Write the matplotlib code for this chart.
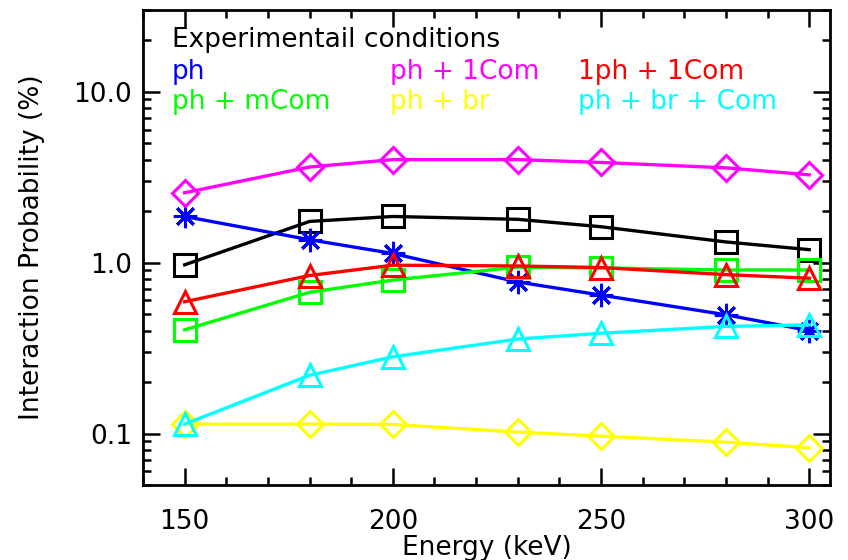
import matplotlib
matplotlib.use("Agg")
import matplotlib.pyplot as plt
from matplotlib.ticker import FixedLocator, FixedFormatter, LogLocator, MultipleLocator, NullFormatter

energy = [150, 180, 200, 230, 250, 280, 300]

exp_cond = [0.97, 1.74, 1.86, 1.79, 1.62, 1.32, 1.19]
ph = [1.86, 1.36, 1.13, 0.77, 0.645, 0.495, 0.40]
ph_1com = [2.56, 3.62, 4.0, 4.0, 3.85, 3.58, 3.26]
oneph_1com = [0.59, 0.84, 0.965, 0.955, 0.935, 0.85, 0.81]
ph_mcom = [0.404, 0.67, 0.79, 0.94, 0.93, 0.905, 0.905]
ph_br = [0.1135, 0.1135, 0.113, 0.102, 0.0965, 0.089, 0.0826]
ph_br_com = [0.1135, 0.219, 0.281, 0.357, 0.386, 0.423, 0.432]

x_ticks = [150, 200, 250, 300]
x_ticklabels = ["150", "200", "250", "300"]
y_ticks = [0.1, 1.0, 10.0]
y_ticklabels = ["0.1", "1.0", "10.0"]

legend_title = "Experimentail conditions"
legend_labels = ["ph", "ph + 1Com", "1ph + 1Com", "ph + mCom", "ph + br", "ph + br + Com"]

plt.rcParams['font.family'] = ['DejaVu Sans']
fs = 19

fig = plt.figure(figsize=(8.48, 5.60), dpi=100)
ax = fig.add_axes([143/848, 1-485/560, (830-143)/848, (485-10)/560])

lw = 2.4
ms = 16
mew = 2.2
star = (8, 2, 0)

series = [
    (exp_cond, 'black', 's'),
    (ph, '#0000ff', star),
    (ph_1com, '#ff00ff', 'D'),
    (ph_mcom, '#00ff00', 's'),
    (oneph_1com, '#ff0000', '^'),
    (ph_br, '#ffff00', 'D'),
    (ph_br_com, '#00ffff', '^'),
]
for vals, col, mk in series:
    m_size = ms
    if mk == 'D':
        m_size = ms * 0.85
    if mk == star:
        m_size = ms * 1.05
    ax.plot(energy, vals, color=col, lw=lw, marker=mk, markersize=m_size,
            markerfacecolor='none', markeredgecolor=col, markeredgewidth=mew)

ax.set_yscale('log')
ax.set_xlim(140, 305)
ax.set_ylim(0.05, 30)

ax.xaxis.set_major_locator(FixedLocator(x_ticks))
ax.xaxis.set_major_formatter(FixedFormatter(x_ticklabels))
ax.xaxis.set_minor_locator(MultipleLocator(10))
ax.yaxis.set_major_locator(FixedLocator(y_ticks))
ax.yaxis.set_major_formatter(FixedFormatter(y_ticklabels))
ax.yaxis.set_minor_locator(LogLocator(base=10, subs=range(2, 10)))
ax.yaxis.set_minor_formatter(NullFormatter())

ax.tick_params(which='both', direction='in', top=True, right=True, width=1.8, colors='black',
               labelsize=fs)
ax.tick_params(which='major', length=12)
ax.tick_params(which='minor', length=6)
ax.tick_params(axis='x', which='major', pad=17)
ax.tick_params(axis='y', which='major', pad=8)
for sp in ax.spines.values():
    sp.set_linewidth(2)

ax.set_xlabel("Energy (keV)", fontsize=fs, labelpad=0)
ax.set_ylabel("Interaction Probability (%)", fontsize=fs, labelpad=20)

# legend text
ax.text(172/848, 1-40/560, legend_title, transform=fig.transFigure, color='black',
        fontsize=fs, va='center', ha='left')
leg_colors = ['#0000ff', '#ff00ff', '#ff0000', '#00ff00', '#ffff00', '#00ffff']
cols_x = [172, 390, 578]
rows_y = [72, 102]
for i, (lab, col) in enumerate(zip(legend_labels, leg_colors)):
    r, c = divmod(i, 3)
    ax.text(cols_x[c]/848, 1-rows_y[r]/560, lab, transform=fig.transFigure, color=col,
            fontsize=fs, va='center', ha='left')

fig.savefig("out.png", dpi=100)
